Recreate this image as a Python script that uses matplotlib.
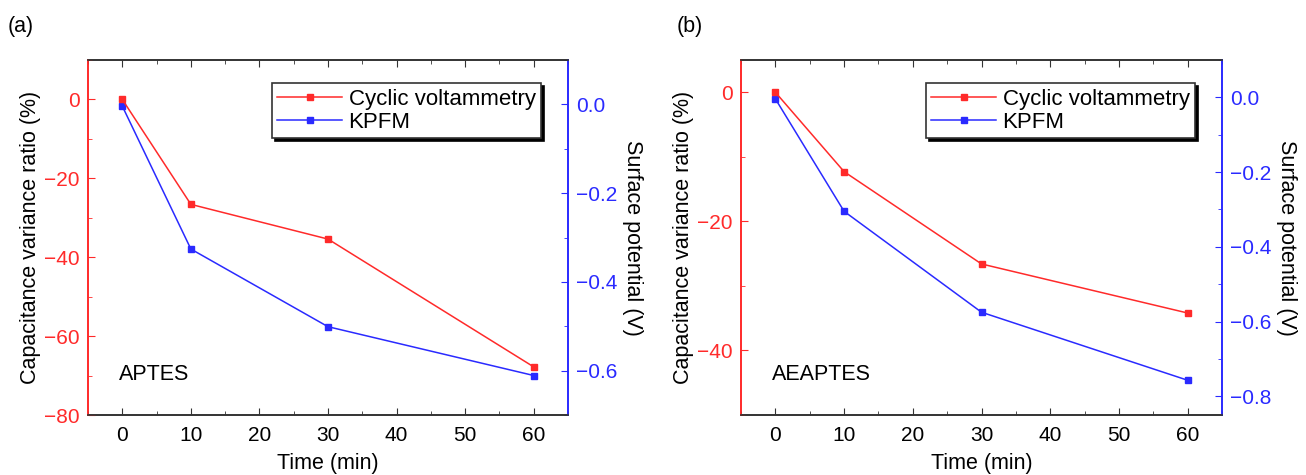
import matplotlib.pyplot as plt
from matplotlib.ticker import MultipleLocator

# === datos ===
tiempo = [0, 10, 30, 60]

# (a) APTES
cv_aptes = [0, -26.6, -35.4, -67.8]
kpfm_aptes = [-0.004, -0.326, -0.501, -0.611]

# (b) AEAPTES
cv_aeaptes = [0, -12.3, -26.6, -34.2]
kpfm_aeaptes = [-0.004, -0.305, -0.575, -0.757]

plt.rcParams['font.family'] = ['Liberation Sans', 'DejaVu Sans']
plt.rcParams['axes.unicode_minus'] = True

ROJO = '#ff2a2a'
AZUL = '#2a2aff'
FS_TICK = 15
FS_LAB = 15.5
FS_LEG = 16

fig = plt.figure(figsize=(13.06, 4.75), dpi=100)

paneles = [
    dict(pos=[0.0674, 0.1263, 0.3675, 0.7474], cv=cv_aptes, kp=kpfm_aptes,
         ylim=(-80, 10), ymaj=20, y2lim=(-0.7, 0.1), nombre='APTES',
         etiqueta='(a)', ex=0.006),
    dict(pos=[0.5674, 0.1263, 0.3683, 0.7474], cv=cv_aeaptes, kp=kpfm_aeaptes,
         ylim=(-50, 5), ymaj=20, y2lim=(-0.85, 0.1), nombre='AEAPTES',
         etiqueta='(b)', ex=0.518),
]

for p in paneles:
    ax = fig.add_axes(p['pos'])
    ax2 = ax.twinx()

    l1, = ax.plot(tiempo, p['cv'], '-s', color=ROJO, lw=1.1, ms=5,
                  label='Cyclic voltammetry')
    l2, = ax2.plot(tiempo, p['kp'], '-s', color=AZUL, lw=1.1, ms=5,
                   label='KPFM')

    ax.set_xlim(-5, 65)
    ax.set_ylim(*p['ylim'])
    ax2.set_ylim(*p['y2lim'])

    ax.xaxis.set_major_locator(MultipleLocator(10))
    ax.xaxis.set_minor_locator(MultipleLocator(5))
    ax.yaxis.set_major_locator(MultipleLocator(p['ymaj']))
    ax.yaxis.set_minor_locator(MultipleLocator(p['ymaj'] / 2))
    ax2.yaxis.set_major_locator(MultipleLocator(0.2))
    ax2.yaxis.set_minor_locator(MultipleLocator(0.1))
    ax2.yaxis.set_major_formatter(plt.FuncFormatter(
        lambda v, pos: ('%.1f' % v).replace('-', '\u2212') if abs(v) > 1e-9 else '0.0'))

    # ejes y colores
    for a in (ax, ax2):
        a.spines['top'].set_color('#333333')
        a.spines['bottom'].set_color('#333333')
        a.spines['left'].set_color(ROJO)
        a.spines['right'].set_color(AZUL)
        for s in a.spines.values():
            s.set_linewidth(1.2)

    ax.tick_params(axis='x', which='both', direction='in', top=True,
                   labelsize=FS_TICK, colors='#333333', labelcolor='black',
                   pad=8)
    ax.tick_params(axis='x', which='major', length=5)
    ax.tick_params(axis='x', which='minor', length=3)
    ax.tick_params(axis='y', which='both', direction='in', colors=ROJO,
                   labelsize=FS_TICK, pad=6)
    ax.tick_params(axis='y', which='major', length=5)
    ax.tick_params(axis='y', which='minor', length=3)
    ax2.tick_params(axis='y', which='both', direction='in', colors=AZUL,
                    labelsize=FS_TICK, pad=6)
    ax2.tick_params(axis='y', which='major', length=5)
    ax2.tick_params(axis='y', which='minor', length=3)

    ax.set_xlabel('Time (min)', fontsize=FS_LAB, labelpad=6)
    ax.set_ylabel('Capacitance variance ratio (%)', fontsize=FS_LAB,
                  labelpad=2)
    ax2.set_ylabel('Surface potential (V)', fontsize=FS_LAB, rotation=270,
                   labelpad=18)

    ax.text(0.065, 0.113, p['nombre'], transform=ax.transAxes,
            fontsize=FS_LAB, va='center')

    leg = ax.legend(handles=[l1, l2], loc='upper right',
                    bbox_to_anchor=(0.944, 0.935), borderaxespad=0,
                    fontsize=FS_LEG,
                    fancybox=False, shadow={'color': 'black', 'alpha': 1},
                    edgecolor='#333333', framealpha=1, borderpad=0.25,
                    labelspacing=0.1, handlelength=2.9, handletextpad=0.3)
    leg.get_frame().set_linewidth(1.2)
    leg.set_zorder(10)
    ax2.set_zorder(ax.get_zorder() - 1)
    ax.patch.set_visible(False)
    ax2.patch.set_visible(True)

    fig.text(p['ex'], 0.945, p['etiqueta'], fontsize=FS_LAB, va='center')

fig.savefig('out.png', dpi=100)
